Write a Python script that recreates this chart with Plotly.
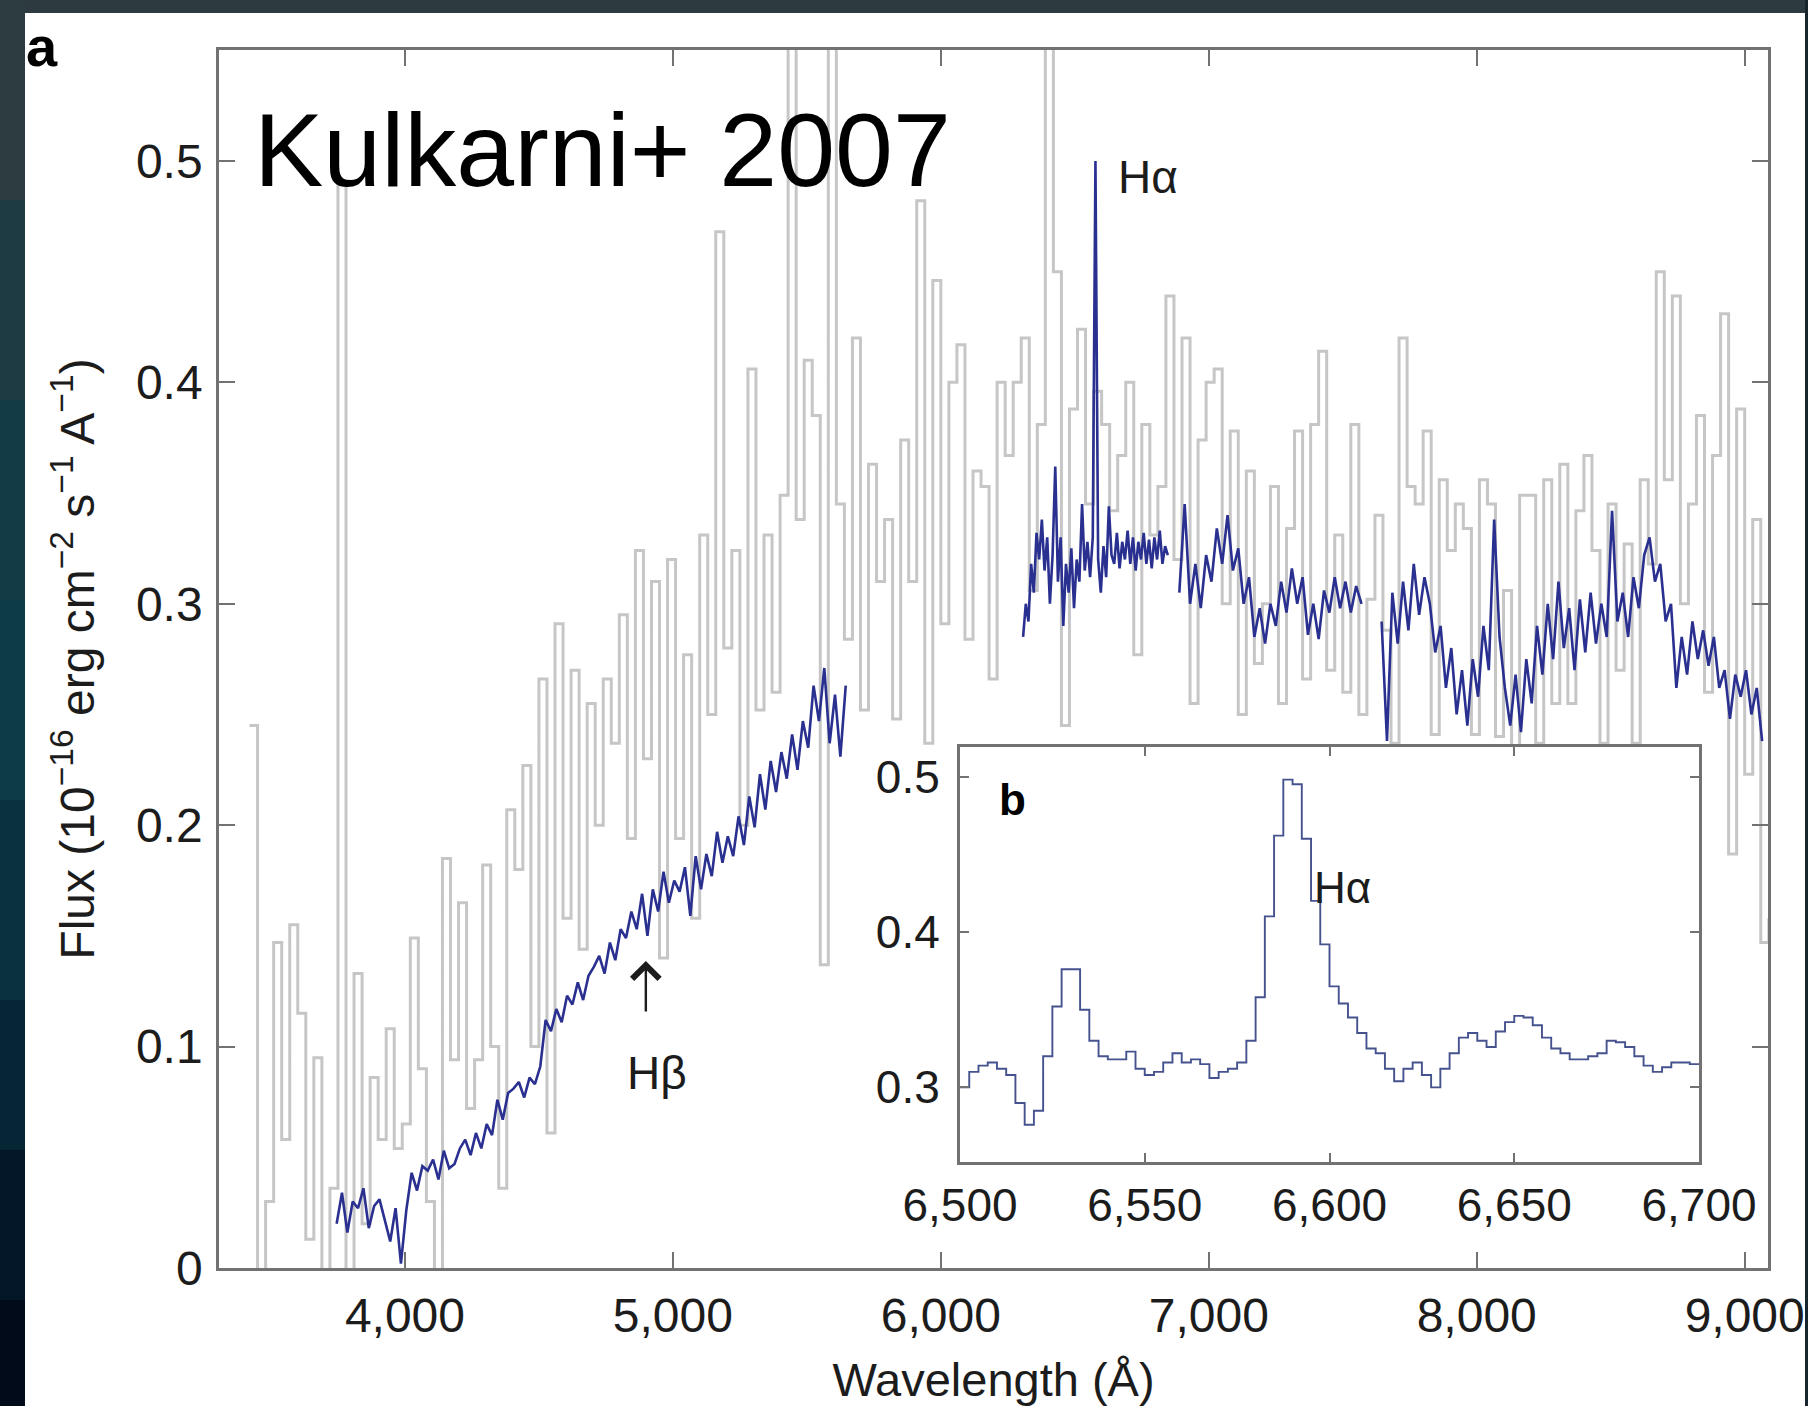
import numpy as np
import plotly.graph_objects as go

# ---------------- data ----------------
# gray (raw) spectrum: binned values, 30 A bins starting at 3420 A
GRAY_START, GRAY_STEP = 3420, 30
gray_flux = [
    0.245, -0.05, 0.03, 0.147, 0.058, 0.155, 0.115, 0.013, 0.095, -0.02,
    0.036, 0.49, -0.02, 0.133, 0.02, 0.086, 0.058, 0.108, 0.054, 0.065,
    0.149, 0.09, 0.03, -0.03, 0.185, 0.094, 0.165, 0.072, 0.094, 0.182,
    0.10, 0.036, 0.207, 0.18, 0.227, 0.10, 0.266, 0.061, 0.291, 0.158,
    0.27, 0.144, 0.255, 0.20, 0.266, 0.237, 0.295, 0.194, 0.324, 0.23,
    0.31, 0.14, 0.32, 0.194, 0.277, 0.158, 0.331, 0.25, 0.468, 0.28,
    0.324, 0.20, 0.406, 0.252, 0.331, 0.26, 0.349, 0.62, 0.338, 0.41,
    0.385, 0.137, 0.62, 0.345, 0.284, 0.42, 0.252, 0.363, 0.31, 0.338,
    0.248, 0.374, 0.31, 0.482, 0.237, 0.446, 0.291, 0.40, 0.417, 0.284,
    0.36, 0.353, 0.266, 0.40, 0.367, 0.40, 0.42, 0.306, 0.381, 0.58,
    0.45, 0.245, 0.388, 0.424, 0.345, 0.396, 0.381, 0.342, 0.367, 0.40,
    0.277, 0.381, 0.331, 0.353, 0.439, 0.32, 0.42, 0.255, 0.374, 0.40,
    0.406, 0.30, 0.378, 0.25, 0.36, 0.273, 0.30, 0.353, 0.255, 0.334,
    0.378, 0.266, 0.381, 0.414, 0.27, 0.331, 0.26, 0.381, 0.25, 0.302,
    0.34, 0.288, 0.237, 0.42, 0.353, 0.345, 0.378, 0.241, 0.356, 0.324,
    0.345, 0.334, 0.241, 0.356, 0.345, 0.24, 0.306, 0.23, 0.349, 0.349,
    0.237, 0.356, 0.255, 0.363, 0.255, 0.342, 0.367, 0.324, 0.237, 0.345,
    0.27, 0.327, 0.237, 0.356, 0.318, 0.45, 0.356, 0.439, 0.30, 0.345,
    0.385, 0.26, 0.367, 0.431, 0.187, 0.388, 0.223, 0.338, 0.147, 0.158,
]

# blue (smoothed) spectrum, four segments separated by gaps
BLUE_A_START, BLUE_A_STEP = 3745, 20
blue_a_flux = [
    0.020, 0.034, 0.016, 0.030, 0.027, 0.036, 0.018, 0.028, 0.031, 0.022,
    0.012, 0.027, 0.002, 0.026, 0.043, 0.035, 0.046, 0.044, 0.049, 0.040,
    0.053, 0.045, 0.047, 0.054, 0.058, 0.051, 0.061, 0.054, 0.065, 0.060,
    0.076, 0.067, 0.079, 0.081, 0.084, 0.077, 0.086, 0.083, 0.091, 0.112,
    0.107, 0.117, 0.111, 0.123, 0.119, 0.129, 0.121, 0.132, 0.136, 0.141,
    0.133, 0.147, 0.139, 0.153, 0.149, 0.161, 0.153, 0.169, 0.150, 0.171,
    0.161, 0.179, 0.165, 0.175, 0.170, 0.181, 0.159, 0.186, 0.171, 0.187,
    0.177, 0.197, 0.183, 0.195, 0.186, 0.204, 0.191, 0.213, 0.199, 0.223,
    0.207, 0.229, 0.215, 0.233, 0.221, 0.241, 0.225, 0.247, 0.235, 0.263,
    0.247, 0.271, 0.237, 0.259, 0.231, 0.263,
]
BLUE_B_START, BLUE_B_STEP = 6307, 10
blue_b_flux = [
    0.285, 0.300, 0.292, 0.318, 0.305, 0.332, 0.320, 0.338, 0.315, 0.330,
    0.300, 0.322, 0.362, 0.310, 0.330, 0.290, 0.318, 0.305, 0.325, 0.298,
    0.320, 0.310, 0.345, 0.315, 0.328, 0.312, 0.330, 0.500, 0.320, 0.305,
    0.326, 0.312, 0.344, 0.322, 0.318, 0.332, 0.316, 0.328, 0.320, 0.333,
    0.318, 0.330, 0.315, 0.328, 0.320, 0.332, 0.318, 0.329, 0.316, 0.330,
    0.320, 0.333, 0.318, 0.326, 0.322,
]
BLUE_C_START, BLUE_C_STEP = 6890, 20
blue_c_flux = [
    0.305, 0.345, 0.300, 0.318, 0.298, 0.322, 0.310, 0.334, 0.318, 0.340,
    0.315, 0.325, 0.300, 0.312, 0.285, 0.298, 0.282, 0.300, 0.290, 0.310,
    0.296, 0.316, 0.300, 0.312, 0.286, 0.300, 0.284, 0.306, 0.296, 0.312,
    0.298, 0.310, 0.296, 0.308, 0.300,
]
BLUE_D_START, BLUE_D_STEP = 7645, 20
blue_d_flux = [
    0.292, 0.238, 0.305, 0.282, 0.310, 0.288, 0.318, 0.295, 0.312, 0.300,
    0.278, 0.290, 0.262, 0.280, 0.250, 0.270, 0.245, 0.275, 0.258, 0.290,
    0.270, 0.338, 0.285, 0.262, 0.245, 0.268, 0.242, 0.275, 0.255, 0.290,
    0.268, 0.300, 0.275, 0.310, 0.280, 0.298, 0.270, 0.302, 0.278, 0.305,
    0.282, 0.300, 0.285, 0.342, 0.292, 0.305, 0.285, 0.312, 0.298, 0.322,
    0.330, 0.310, 0.318, 0.292, 0.300, 0.262, 0.285, 0.268, 0.292, 0.275,
    0.288, 0.272, 0.285, 0.262, 0.270, 0.248, 0.268, 0.258, 0.270, 0.250,
    0.262, 0.238,
]

# inset (b): zoom on H-alpha, 2.5 A steps from 6500 A
INSET_START, INSET_STEP = 6500, 2.5
inset_flux = [
    0.300, 0.310, 0.314, 0.316, 0.312, 0.308, 0.290, 0.276, 0.285, 0.320,
    0.352, 0.376, 0.376, 0.350, 0.330, 0.320, 0.318, 0.318, 0.323, 0.312,
    0.308, 0.310, 0.316, 0.322, 0.316, 0.318, 0.315, 0.306, 0.310, 0.312,
    0.316, 0.330, 0.358, 0.410, 0.462, 0.498, 0.495, 0.460, 0.420, 0.392,
    0.365, 0.354, 0.345, 0.335, 0.325, 0.322, 0.312, 0.304, 0.312, 0.316,
    0.308, 0.300, 0.312, 0.322, 0.332, 0.335, 0.330, 0.326, 0.336, 0.342,
    0.346, 0.345, 0.340, 0.332, 0.325, 0.322, 0.318, 0.318, 0.320, 0.322,
    0.330, 0.329, 0.326, 0.320, 0.314, 0.310, 0.313, 0.316, 0.316, 0.315,
    0.315,
]

main_xticks = [4000, 5000, 6000, 7000, 8000, 9000]
main_yticks = [0, 0.1, 0.2, 0.3, 0.4, 0.5]
inset_xticks = [6500, 6550, 6600, 6650, 6700]
inset_yticks = [0.3, 0.4, 0.5]

# ---------------- build ----------------
def grid(start, step, vals):
    return list(start + step * np.arange(len(vals)))

gray_x = grid(GRAY_START, GRAY_STEP, gray_flux)
blue_x, blue_y = [], []
for st, sp, vals in [(BLUE_A_START, BLUE_A_STEP, blue_a_flux),
                     (BLUE_B_START, BLUE_B_STEP, blue_b_flux),
                     (BLUE_C_START, BLUE_C_STEP, blue_c_flux),
                     (BLUE_D_START, BLUE_D_STEP, blue_d_flux)]:
    blue_x += grid(st, sp, vals) + [None]
    blue_y += list(vals) + [None]
inset_x = grid(INSET_START, INSET_STEP, inset_flux)

W, H = 1808, 1406
L, R, T, B = 219, 40, 50, 138
PW, PH = W - L - R, H - T - B


def pxx(px):
    return (px - L) / PW


def pxy(py):
    return (H - B - py) / PH


FONT = "Liberation Sans, Arial, Helvetica, sans-serif"
TXT = "#1c1c1c"
FRAME = "#727272"

fig = go.Figure()
fig.add_trace(go.Scatter(x=gray_x, y=gray_flux, mode="lines",
                         line=dict(color="#c6c6c6", width=3, shape="hv"),
                         xaxis="x", yaxis="y", hoverinfo="skip"))
fig.add_trace(go.Scatter(x=blue_x, y=blue_y, mode="lines",
                         line=dict(color="#2a3090", width=2.6),
                         connectgaps=False, xaxis="x", yaxis="y"))
fig.add_trace(go.Scatter(x=inset_x, y=inset_flux, mode="lines",
                         line=dict(color="#45528e", width=1.9, shape="hv"),
                         xaxis="x2", yaxis="y2"))

axis_common = dict(showgrid=False, zeroline=False, showline=True, automargin=False,
                   linecolor=FRAME, ticks="inside", tickcolor=FRAME,
                   mirror="ticks", tickfont=dict(family=FONT, size=48, color=TXT))

fig.update_layout(
    width=W, height=H,
    margin=dict(l=L, r=R, t=T, b=B, pad=0, autoexpand=False),
    paper_bgcolor="white", plot_bgcolor="white",
    showlegend=False,
    font=dict(family=FONT, color=TXT),
    xaxis=dict(axis_common, domain=[0, 1], range=[3306, 9087],
               tickvals=main_xticks, tickformat=",d", ticklen=16, tickwidth=2,
               linewidth=2.5, ticklabelstandoff=4, anchor="y",
               title=dict(text="Wavelength (Å)", standoff=30,
                          font=dict(family=FONT, size=47, color=TXT))),
    yaxis=dict(axis_common, domain=[0, 1], range=[0, 0.5501],
               tickvals=main_yticks, ticklen=16, tickwidth=2,
               linewidth=2.5, ticklabelstandoff=4, anchor="x",
               title=dict(text="Flux (10<sup>−16</sup> erg cm<sup>−2</sup> s<sup>−1</sup> A<sup>−1</sup>)",
                          standoff=27, font=dict(family=FONT, size=48, color=TXT))),
    xaxis2=dict(axis_common, domain=[pxx(960), pxx(1699)], range=[6500, 6700],
                tickvals=inset_xticks, tickformat=",d", ticklen=9, tickwidth=2,
                linewidth=3, ticklabelstandoff=1, anchor="y2",
                tickfont=dict(family=FONT, size=46, color=TXT)),
    yaxis2=dict(axis_common, domain=[pxy(1162), pxy(747)], range=[0.252, 0.519],
                tickvals=inset_yticks, ticklen=9, tickwidth=2,
                linewidth=3, ticklabelstandoff=8, anchor="x2",
                tickfont=dict(family=FONT, size=46, color=TXT)),
)

# dark photo border (decoration)
shapes = [
    dict(type="rect", xref="paper", yref="paper", x0=pxx(0), x1=pxx(W),
         y0=pxy(13), y1=pxy(0), fillcolor="#2d3b40", line_width=0, layer="below"),
    dict(type="rect", xref="paper", yref="paper", x0=pxx(1805), x1=pxx(W),
         y0=pxy(H), y1=pxy(0), fillcolor="#16262c", line_width=0, layer="below"),
]
strip_bands = [(0, 200, "#2c3c41"), (200, 400, "#1e3a42"), (400, 600, "#133b45"),
               (600, 800, "#0d3c46"), (800, 1000, "#0a3140"), (1000, 1150, "#062535"),
               (1150, 1300, "#031728"), (1300, 1406, "#010b1a")]
for y0, y1, col in strip_bands:
    shapes.append(dict(type="rect", xref="paper", yref="paper", x0=pxx(0), x1=pxx(25),
                       y0=pxy(y1), y1=pxy(y0), fillcolor=col, line_width=0, layer="below"))
fig.update_layout(shapes=shapes)

ann = [
    dict(text="<b>a</b>", xref="paper", yref="paper", x=pxx(42), y=pxy(46),
         xanchor="center", yanchor="middle", showarrow=False,
         font=dict(family=FONT, size=56, color="#000")),
    dict(text="Kulkarni+ 2007", xref="paper", yref="paper", x=pxx(252), y=pxy(150),
         xanchor="left", yanchor="middle", showarrow=False,
         font=dict(family=FONT, size=104, color="#000")),
    dict(text="Hα", xref="x", yref="y", x=6655, y=0.4928,
         xanchor="left", yanchor="middle", showarrow=False,
         font=dict(family=FONT, size=46, color=TXT)),
    dict(text="Hβ", xref="x", yref="y", x=4940, y=0.088,
         xanchor="center", yanchor="middle", showarrow=False,
         font=dict(family=FONT, size=46, color=TXT)),
    dict(text="", xref="x", yref="y", x=4899, y=0.1387, ax=0, ay=52,
         showarrow=True, arrowhead=4, arrowsize=2.2, arrowwidth=2.4, arrowcolor=TXT),
    dict(text="<b>b</b>", xref="x2", yref="y2", x=6514.3, y=0.4855,
         xanchor="center", yanchor="middle", showarrow=False,
         font=dict(family=FONT, size=44, color="#000")),
    dict(text="Hα", xref="x2", yref="y2", x=6595.3, y=0.4283,
         xanchor="left", yanchor="middle", showarrow=False,
         font=dict(family=FONT, size=44, color=TXT)),
]
fig.update_layout(annotations=ann)

fig.write_html("out.html")
